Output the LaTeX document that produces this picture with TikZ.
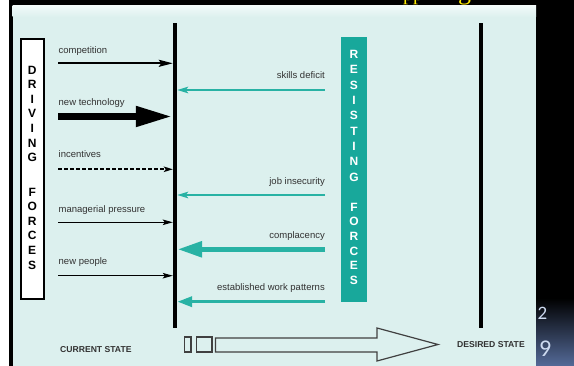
\documentclass[tikz,border=0pt]{standalone}
\usepackage{fontspec}
\setmainfont{Liberation Sans}
\newfontfamily\serifyfont{Liberation Serif}
\newfontfamily\digitfont{Carlito}
\usetikzlibrary{arrows.meta}
\definecolor{panelbg}{RGB}{220,240,238}
\definecolor{paneltop}{RGB}{242,250,249}
\definecolor{tealbox}{RGB}{24,168,155}
\definecolor{tealarrow}{RGB}{40,178,164}
\definecolor{labelgray}{RGB}{50,50,50}
\definecolor{slideblue}{RGB}{84,106,152}
\definecolor{digitcol}{RGB}{205,218,240}
\definecolor{titleyellow}{RGB}{255,236,0}
\begin{document}
\begin{tikzpicture}[x=1pt,y=-1pt,
  lbl/.style={font=\fontsize{9.5}{11}\selectfont, text=labelgray, inner sep=0pt},
  vletter/.style={font=\fontsize{12}{12}\selectfont\bfseries, inner sep=0pt},
  statelbl/.style={font=\fontsize{8.6}{10}\selectfont\bfseries, text=labelgray, inner sep=0pt},
  drvthin/.style={line width=1.3pt, -{Stealth[length=10pt,width=5.5pt,inset=2pt]}},
  drvmed/.style={line width=2pt, -{Stealth[length=14pt,width=7pt,inset=2.5pt]}},
  drvthick/.style={line width=7.5pt, -{Triangle[length=37pt,width=19pt]}},
  drvdash/.style={line width=1.6pt, dash pattern=on 4pt off 2pt, -{Stealth[length=9pt,width=5.5pt,inset=2pt]}},
  resthin/.style={tealarrow, line width=2pt, -{Stealth[length=11pt,width=6.5pt,inset=2.5pt]}},
  resmed/.style={tealarrow, line width=3.5pt, -{Triangle[length=15pt,width=10pt]}},
  resthick/.style={tealarrow, line width=5.5pt, -{Triangle[length=25pt,width=15pt]}},
  outl/.style={draw=black!75, line width=1.2pt, fill=panelbg}
]
\useasboundingbox (0,0) rectangle (574,366);
\clip (0,0) rectangle (574,366);
% slide background
\fill[black] (0,0) rectangle (574,366);
\fill[white] (0,0) rectangle (9,366);
% title fragments (only descenders visible in the reference)
\node[font=\serifyfont\fontsize{20}{20}\selectfont, text=titleyellow, anchor=base west, inner sep=0pt] (ttl1) at (403,0.5) {pp};
\node[font=\serifyfont\fontsize{26}{26}\selectfont, text=titleyellow, anchor=base west, inner sep=0pt] (ttl2) at (458,-0.5) {g};
% panel
\fill[panelbg] (12.5,5.5) rectangle (536,366);
\shade[top color=paneltop, bottom color=panelbg] (12.5,5.5) rectangle (536,17);
% lower right slide corner
\shade[top color=black, bottom color=slideblue] (536,298) rectangle (574,366);
\node[font=\digitfont\fontsize{19}{19}\selectfont, text=digitcol, anchor=base west, inner sep=0pt] (pg1) at (537.5,320) {2};
\node[font=\digitfont\fontsize{24}{24}\selectfont, text=digitcol, anchor=base west, inner sep=0pt] (pg2) at (539,357) {9};

% state lines
\node[fill=black, minimum width=4pt, minimum height=305pt, inner sep=0pt] (cur) at (175,175.5) {};
\node[fill=black, minimum width=3.5pt, minimum height=305pt, inner sep=0pt] (des) at (481,175.5) {};

% driving forces box
\node[draw=black, line width=2pt, fill=white, minimum width=23.5pt, minimum height=260pt, inner sep=0pt] (dbox) at (32.25,169) {};
\foreach \l/\yy [count=\i] in {D/70,R/84.6,I/99.2,V/113.8,I/128.4,N/143,G/157.6,F/192,O/206.6,R/221.2,C/235.8,E/250.4,S/265}
  \node[vletter, text=black] (dl\i) at (32.25,\yy) {\l};

% resisting forces box
\node[fill=tealbox, minimum width=26pt, minimum height=265pt, inner sep=0pt] (rbox) at (354,169.5) {};
\foreach \l/\yy [count=\i] in {R/54.5,E/69.8,S/85.1,I/100.4,S/115.7,T/131,I/146.3,N/161.6,G/176.9,F/207,O/221.7,R/236.4,C/251.1,E/265.8,S/280.5}
  \node[vletter, text=white] (rl\i) at (354,\yy) {\l};

% driving arrows
\node[lbl, anchor=base west] (lcomp) at (58.5,53.3) {competition};
\coordinate (scomp) at (58,63.3);
\draw[drvmed] (scomp) -- (scomp -| cur.west);
\node[lbl, anchor=base west] (ltech) at (58.5,106) {new technology};
\coordinate (stech) at (58,116.5);
\draw[drvthick] (stech) -- (stech -| cur.west);
\node[lbl, anchor=base west] (linc) at (58.5,158) {incentives};
\coordinate (sinc) at (58,169.3);
\draw[drvdash] (sinc) -- (sinc -| cur.west);
\node[lbl, anchor=base west] (lman) at (58.5,212.5) {managerial pressure};
\coordinate (sman) at (58,222.3);
\draw[drvthin] (sman) -- (sman -| cur.west);
\node[lbl, anchor=base west] (lnew) at (58.5,264.5) {new people};
\coordinate (snew) at (58,275.7);
\draw[drvthin] (snew) -- (snew -| cur.west);

% resisting arrows
\node[lbl, anchor=base east] (lskill) at (325,79) {skills deficit};
\coordinate (sskill) at (325,90);
\draw[resthin] (sskill) -- (sskill -| cur.east);
\node[lbl, anchor=base east] (ljob) at (325,185) {job insecurity};
\coordinate (sjob) at (325,195);
\draw[resthin] (sjob) -- (sjob -| cur.east);
\node[lbl, anchor=base east] (lcompl) at (325,238.7) {complacency};
\coordinate (scompl) at (325,249.3);
\draw[resthick] (scompl) -- (scompl -| cur.east);
\node[lbl, anchor=base east] (lest) at (325,290.7) {established work patterns};
\coordinate (sest) at (325,301.7);
\draw[resmed] (sest) -- (sest -| cur.east);

% state labels
\node[statelbl, anchor=base west] (lcur) at (60,353) {CURRENT STATE};
\node[statelbl, anchor=base west] (ldes) at (457,347.5) {DESIRED STATE};

% bottom block arrow
\node[outl, minimum width=6.5pt, minimum height=15pt, inner sep=0pt] (bx1) at (187.75,344.5) {};
\node[outl, minimum width=15.5pt, minimum height=15pt, inner sep=0pt] (bx2) at (204.25,344.5) {};
\draw[outl, line join=miter] (215.5,338) -- (377,338) -- (377,328) -- (438,344.5) -- (377,361) -- (377,352) -- (215.5,352) -- cycle;
\end{tikzpicture}
\end{document}
